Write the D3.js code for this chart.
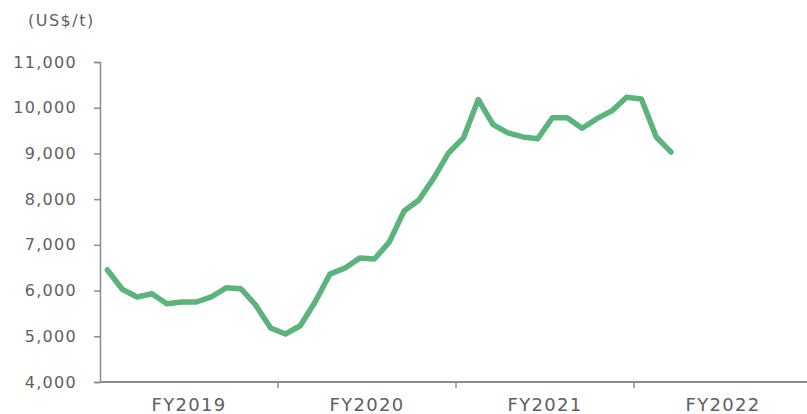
<!DOCTYPE html>
<html>
<head>
    <meta charset="UTF-8">
    <script src="https://d3js.org/d3.v7.min.js"></script>
    <style>
        body { margin: 0; background: #fff; }
        svg { display: block; }
        text { font-family: "DejaVu Sans", Verdana, sans-serif; fill: #606060; }
    </style>
</head>
<body>
<svg width="807" height="414"></svg>
<script>
    // fiscal years on the x axis
    let fiscalYears = ["FY2019", "FY2020", "FY2021", "FY2022"];
    // monthly price, US$/t, Apr 2019 onwards
    let prices = [
        6450, 6030, 5860, 5930, 5710, 5750, 5750, 5860, 6060, 6040, 5680, 5180,
        5050, 5230, 5750, 6360, 6490, 6710, 6690, 7060, 7740, 7980, 8460, 9010,
        9340, 10180, 9630, 9450, 9360, 9320, 9780, 9780, 9550, 9760, 9930, 10230,
        10190, 9360, 9030
    ];
    let yTicks = [4000, 5000, 6000, 7000, 8000, 9000, 10000, 11000];

    let svg = d3.select("svg");
    let plotLeft = 100, plotRight = 812, plotTop = 62, plotBottom = 382;

    let y = d3.scaleLinear().domain([4000, 11000]).range([plotBottom, plotTop]);
    let band = d3.scaleBand().domain(fiscalYears).range([plotLeft, plotRight]);
    let x = d3.scaleLinear().domain([0, fiscalYears.length * 12]).range([plotLeft, plotRight]);

    // y axis
    let yAxis = svg.append("g")
        .attr("transform", `translate(${plotLeft},0)`)
        .call(d3.axisLeft(y).tickValues(yTicks).tickFormat(d3.format(",")).tickSize(6).tickPadding(17));
    yAxis.selectAll("path, line").attr("stroke", "#8c8c8c").attr("stroke-width", 1.5);
    yAxis.selectAll("text")
        .attr("font-size", 16)
        .attr("letter-spacing", 1.3)
        .attr("font-family", "DejaVu Sans, Verdana, sans-serif")
        .attr("fill", "#606060");

    // x axis, ticks on fiscal year boundaries
    let xAxis = svg.append("g")
        .attr("transform", `translate(0,${plotBottom})`);
    xAxis.append("line")
        .attr("x1", plotLeft).attr("x2", plotRight)
        .attr("stroke", "#8c8c8c").attr("stroke-width", 2);
    xAxis.selectAll("line.tick")
        .data(fiscalYears.slice(1))
        .enter().append("line")
        .attr("class", "tick")
        .attr("x1", d => band(d)).attr("x2", d => band(d))
        .attr("y1", 0).attr("y2", 6)
        .attr("stroke", "#8c8c8c").attr("stroke-width", 1.5);
    xAxis.selectAll("text")
        .data(fiscalYears)
        .enter().append("text")
        .attr("x", d => band(d) + band.bandwidth() / 2)
        .attr("y", 29)
        .attr("text-anchor", "middle")
        .attr("font-size", 18)
        .attr("letter-spacing", 1.3)
        .text(d => d);

    // unit label
    svg.append("text")
        .attr("x", 28).attr("y", 26)
        .attr("font-size", 16)
        .attr("letter-spacing", 1.5)
        .text("(US$/t)");

    // price line
    let line = d3.line()
        .x((d, i) => x(i + 0.5))
        .y(d => y(d));

    svg.append("path")
        .datum(prices)
        .attr("d", line)
        .attr("fill", "none")
        .attr("stroke", "#5db37c")
        .attr("stroke-width", 5.5)
        .attr("stroke-linejoin", "round")
        .attr("stroke-linecap", "round");
</script>
</body>
</html>
